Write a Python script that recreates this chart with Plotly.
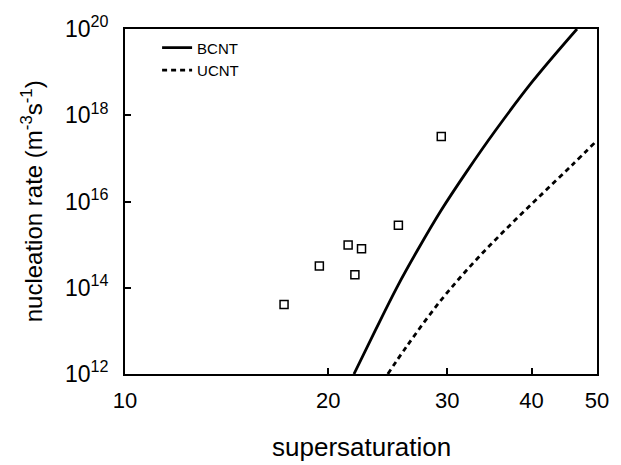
import plotly.graph_objects as go

# Experimental data (open squares)
exp_S = [17.2, 19.4, 21.4, 22.4, 21.9, 25.4, 29.4]
exp_J = [4.1e13, 3.2e14, 9.8e14, 8.0e14, 2.0e14, 2.8e15, 3.2e17]

# BCNT theory (solid)
bcnt_S = [21.83, 23.48, 25.39, 27.15, 29.36, 32.08, 35.28, 40.1, 46.7]
bcnt_J = [1e12, 1.03e13, 1.17e14, 7.7e14, 6.1e15, 5.0e16, 4.2e17, 6.0e18, 1e20]

# UCNT theory (dashed)
ucnt_S = [24.5, 26.24, 29.36, 32.81, 36.67, 41.02, 45.84, 50.0]
ucnt_J = [1e12, 4.8e12, 5.1e13, 3.8e14, 2.3e15, 1.27e16, 6.8e16, 2.6e17]

x_ticks = [10, 20, 30, 40, 50]
y_ticks = [1e12, 1e14, 1e16, 1e18, 1e20]
y_ticktext = ["10<sup>12</sup>", "10<sup>14</sup>", "10<sup>16</sup>", "10<sup>18</sup>", "10<sup>20</sup>"]

x_title = "supersaturation"
y_title = "nucleation rate (m<sup>-3</sup>s<sup>-1</sup>)"

FONT = "Liberation Sans, Arial, sans-serif"

fig = go.Figure()
fig.add_trace(go.Scatter(x=bcnt_S, y=bcnt_J, mode="lines", name="BCNT",
                         line=dict(color="black", width=2.8, shape="spline", smoothing=1.0)))
fig.add_trace(go.Scatter(x=ucnt_S, y=ucnt_J, mode="lines", name="UCNT",
                         line=dict(color="black", width=2.8, dash="5px,4px", shape="spline", smoothing=1.0)))
fig.add_trace(go.Scatter(x=exp_S, y=exp_J, mode="markers", showlegend=False,
                         marker=dict(symbol="square-open", size=8, color="black",
                                     line=dict(width=1.5, color="black"))))

fig.update_layout(
    width=621, height=465,
    margin=dict(l=125, r=15, t=23, b=91),
    paper_bgcolor="white", plot_bgcolor="white",
    font=dict(family=FONT, color="black"),
    legend=dict(x=0.068, y=0.993, xanchor="left", yanchor="top",
                bgcolor="rgba(0,0,0,0)", font=dict(size=15, family=FONT),
                tracegroupgap=0),
    annotations=[
        dict(text=x_title, xref="paper", yref="paper", x=0.5, y=-0.211,
             xanchor="center", yanchor="middle", showarrow=False,
             font=dict(size=26, family=FONT, color="black")),
        dict(text=y_title, xref="paper", yref="paper", x=-0.1975, y=0.5,
             xanchor="center", yanchor="middle", showarrow=False, textangle=-90,
             font=dict(size=24, family=FONT, color="black")),
    ],
)
fig.update_xaxes(
    type="log", range=[1, 1.69897],
    tickvals=x_ticks, ticktext=[str(v) for v in x_ticks],
    tickfont=dict(size=22), ticks="inside", ticklen=6, tickwidth=1.5,
    tickcolor="black", ticklabelstandoff=6,
    showline=True, linecolor="black", linewidth=2, mirror=True,
    showgrid=False, zeroline=False,
)
fig.update_yaxes(
    type="log", range=[12, 20],
    tickvals=y_ticks, ticktext=y_ticktext,
    tickfont=dict(size=23), ticks="inside", ticklen=6, tickwidth=1.5,
    tickcolor="black", ticklabelstandoff=10,
    showline=True, linecolor="black", linewidth=2, mirror=True,
    showgrid=False, zeroline=False,
)

fig.write_html("out.html")
